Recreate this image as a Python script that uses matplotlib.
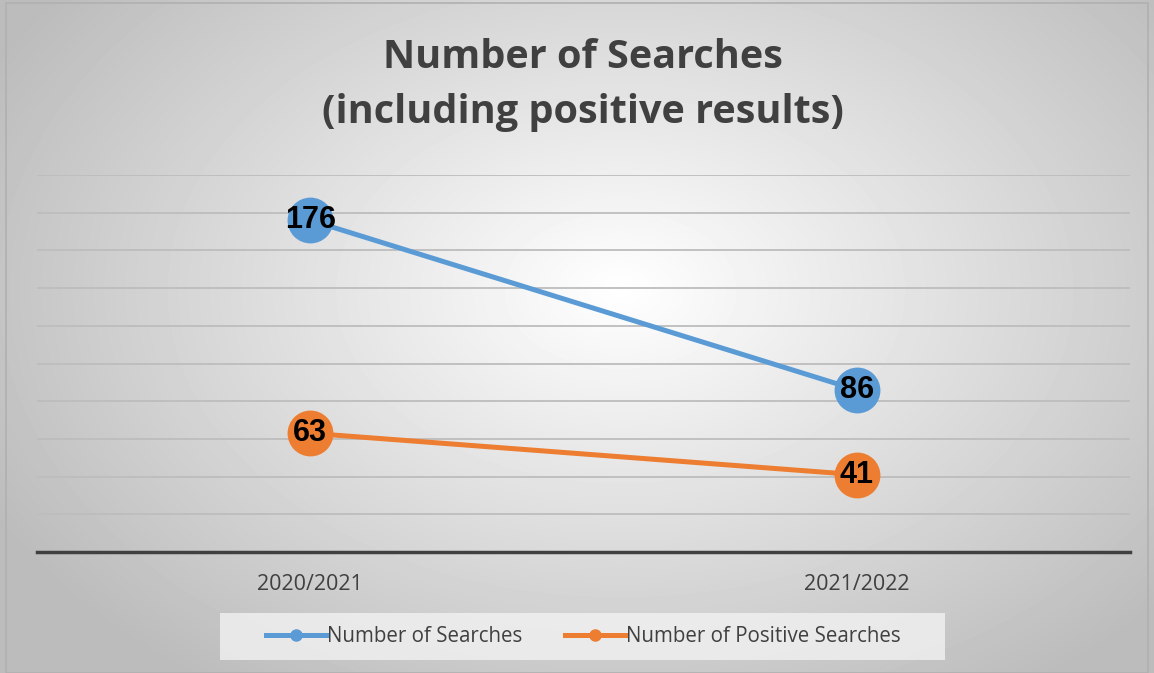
"""
plot.py
-------
Number of Searches (including positive results) - line chart with data labels.
"""

import numpy as np
import matplotlib.pyplot as plt
from matplotlib.patches import Rectangle

seasons = ["2020/2021", "2021/2022"]
searches = [176, 86]
positive = [63, 41]
y_ticks = list(range(0, 201, 20))

BLUE = "#5b9bd5"
ORANGE = "#ed7d31"

fig = plt.figure(figsize=(11.54, 6.73), dpi=100)

# radial gradient background
bg = fig.add_axes([0, 0, 1, 1], zorder=-10)
yy, xx = np.mgrid[0:673, 0:1154]
dist = np.sqrt(((xx - 620) / 620.0) ** 2 + ((yy - 290) / 420.0) ** 2)
shade = 1.0 - 0.23 * np.clip(dist, 0, 1.15)
bg.imshow(shade, cmap="gray", vmin=0, vmax=1, aspect="auto",
          extent=[0, 1, 0, 1], origin="upper")
bg.set_axis_off()
fig.patches.append(Rectangle((0.005, 0.0), 0.99, 0.995, transform=fig.transFigure,
                             fill=False, edgecolor="#b0b0b0", linewidth=1.2))
# legend background box
fig.patches.append(Rectangle((220 / 1154, 1 - 660 / 673), 725 / 1154, 47 / 673,
                             transform=fig.transFigure, facecolor="#f2f2f2",
                             alpha=0.8, edgecolor="none", zorder=-1))

ax = fig.add_axes([37 / 1154, 1 - 552 / 673, (1130 - 37) / 1154, (552 - 175) / 673])
ax.patch.set_alpha(0)

x = np.arange(len(seasons))
ax.plot(x, searches, color=BLUE, linewidth=3.6, marker="o", markersize=32,
        label="Number of Searches", zorder=3)
ax.plot(x, positive, color=ORANGE, linewidth=3.6, marker="o", markersize=32,
        label="Number of Positive Searches", zorder=3)

for xi, v in zip(x, searches):
    ax.text(xi, v, str(v), ha="center", va="center", fontsize=22,
            fontweight="bold", family="Liberation Sans", zorder=4)
for xi, v in zip(x, positive):
    ax.text(xi, v, str(v), ha="center", va="center", fontsize=22,
            fontweight="bold", family="Liberation Sans", zorder=4)

ax.set_xlim(-0.5, 1.5)
ax.set_ylim(0, 200)
ax.set_yticks(y_ticks)
ax.yaxis.grid(True, color="#bdbdbd", linewidth=1.3)
ax.set_axisbelow(True)
ax.tick_params(axis="y", left=False, labelleft=False)
ax.tick_params(axis="x", bottom=False, pad=12)
ax.set_xticks(x)
ax.set_xticklabels(seasons, fontsize=15.5, color="#404040", family="Open Sans")
for side in ["top", "right", "left"]:
    ax.spines[side].set_visible(False)
ax.spines["bottom"].set_color("#404040")
ax.spines["bottom"].set_linewidth(2.5)

fig.text(583 / 1154, 1 - 85 / 673, "Number of Searches\n(including positive results)",
         ha="center", va="center", fontsize=28.5, fontweight="bold",
         color="#404040", family="Open Sans", linespacing=1.55)

leg = ax.legend(loc="center", bbox_to_anchor=(0.5, -0.225), ncol=2, frameon=False,
                prop={"family": "Open Sans", "size": 14.8},
                markerscale=0.25, handlelength=2.9, columnspacing=2.1,
                handletextpad=0.05)
for t in leg.get_texts():
    t.set_color("#404040")

fig.savefig("out.png", dpi=100)
